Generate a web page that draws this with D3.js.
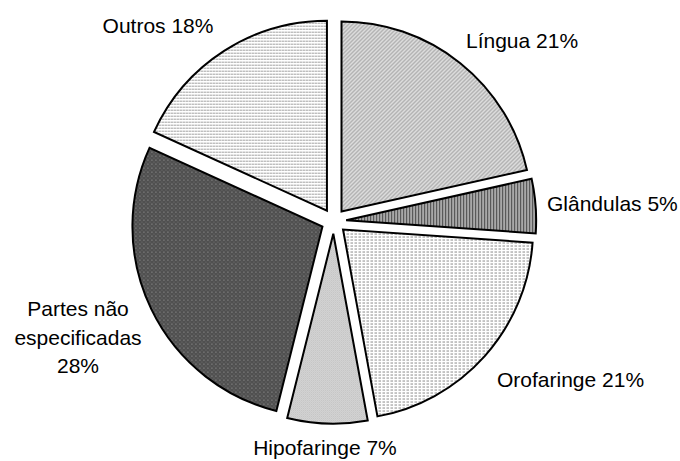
<!DOCTYPE html>
<html>
<head>
<meta charset="utf-8">
<script src="https://cdn.jsdelivr.net/npm/d3@7"></script>
<style>
  body { margin: 0; background: #fff; }
  svg text { font-family: "Liberation Sans", Arial, sans-serif; font-size: 21px; fill: #000; }
</style>
</head>
<body>
<svg id="chart" width="680" height="461"></svg>
<script>
// slices, clockwise from 12 o'clock
const sites = ["Língua", "Glândulas", "Orofaringe", "Hipofaringe", "Partes não especificadas", "Outros"];
const shares = [21.5, 4.6, 21.0, 6.8, 27.9, 18.2];
const pctLabels = ["21%", "5%", "21%", "7%", "28%", "18%"];

const width = 680, height = 461;
const cx = 333.7, cy = 221.2, radius = 190, explode = 12.5;

// label anchors (x, y of first baseline, text-anchor)
const labelLayout = [
  [466, 48, "start"],
  [547, 211, "start"],
  [497, 387, "start"],
  [325, 455, "middle"],
  [78, 316, "middle"],
  [158, 33, "middle"]
];
const labelLines = [
  ["Língua 21%"],
  ["Glândulas 5%"],
  ["Orofaringe 21%"],
  ["Hipofaringe 7%"],
  ["Partes não", "especificadas", "28%"],
  ["Outros 18%"]
];

const svg = d3.select("#chart");
const defs = svg.append("defs");

// fill patterns, one per slice
function pattern(id, w, h, bg, draw) {
  const p = defs.append("pattern")
    .attr("id", id)
    .attr("patternUnits", "userSpaceOnUse")
    .attr("width", w).attr("height", h);
  p.append("rect").attr("width", w).attr("height", h).attr("fill", bg);
  draw(p);
}
pattern("p0", 4, 4, "#dcdcdc", p => {
  p.append("path").attr("d", "M-1,1 L1,-1 M0,4 L4,0 M3,5 L5,3")
    .attr("stroke", "#8c8c8c").attr("stroke-width", 1);
});
pattern("p1", 3, 3, "#a8a8a8", p => {
  p.append("rect").attr("x", 0).attr("width", 1).attr("height", 3).attr("fill", "#4a4a4a");
});
pattern("p2", 4, 3, "#ffffff", p => {
  p.append("rect").attr("x", 0).attr("y", 1).attr("width", 2).attr("height", 1).attr("fill", "#8a8a8a");
  p.append("rect").attr("x", 3).attr("y", 1).attr("width", 1).attr("height", 1).attr("fill", "#c0c0c0");
});
pattern("p3", 2, 2, "#ebebeb", p => {
  p.append("rect").attr("width", 1).attr("height", 1).attr("fill", "#a8a8a8");
  p.append("rect").attr("x", 1).attr("y", 1).attr("width", 1).attr("height", 1).attr("fill", "#b8b8b8");
});
pattern("p4", 4, 4, "#505050", p => {
  p.append("rect").attr("x", 1).attr("y", 1).attr("width", 1).attr("height", 1).attr("fill", "#a0a0a0");
  p.append("rect").attr("x", 3).attr("y", 3).attr("width", 1).attr("height", 1).attr("fill", "#707070");
});
pattern("p5", 3, 3, "#ffffff", p => {
  p.append("rect").attr("y", 1).attr("width", 2).attr("height", 1).attr("fill", "#a0a0a0");
  p.append("rect").attr("x", 2).attr("y", 1).attr("width", 1).attr("height", 1).attr("fill", "#d0d0d0");
});

const pie = d3.pie().sort(null).value(d => d)
  .startAngle(0).endAngle(2 * Math.PI);
const arc = d3.arc().innerRadius(0).outerRadius(radius);

const arcs = pie(shares);

const g = svg.append("g").attr("transform", `translate(${cx},${cy})`);

g.selectAll("path.slice")
  .data(arcs)
  .enter().append("path")
    .attr("class", "slice")
    .attr("transform", d => {
      const a = (d.startAngle + d.endAngle) / 2;
      return `translate(${explode * Math.sin(a)},${-explode * Math.cos(a)})`;
    })
    .attr("d", arc)
    .attr("fill", (d, i) => `url(#p${i})`)
    .attr("stroke", "#000")
    .attr("stroke-width", 2)
    .attr("stroke-linejoin", "miter");

const labels = svg.selectAll("text.lbl")
  .data(sites)
  .enter().append("text")
    .attr("class", "lbl")
    .attr("x", (d, i) => labelLayout[i][0])
    .attr("y", (d, i) => labelLayout[i][1])
    .attr("text-anchor", (d, i) => labelLayout[i][2]);

labels.each(function(d, i) {
  const t = d3.select(this);
  labelLines[i].forEach((line, j) => {
    t.append("tspan")
      .attr("x", labelLayout[i][0])
      .attr("dy", j === 0 ? 0 : 28.5)
      .text(line);
  });
});
</script>
</body>
</html>
